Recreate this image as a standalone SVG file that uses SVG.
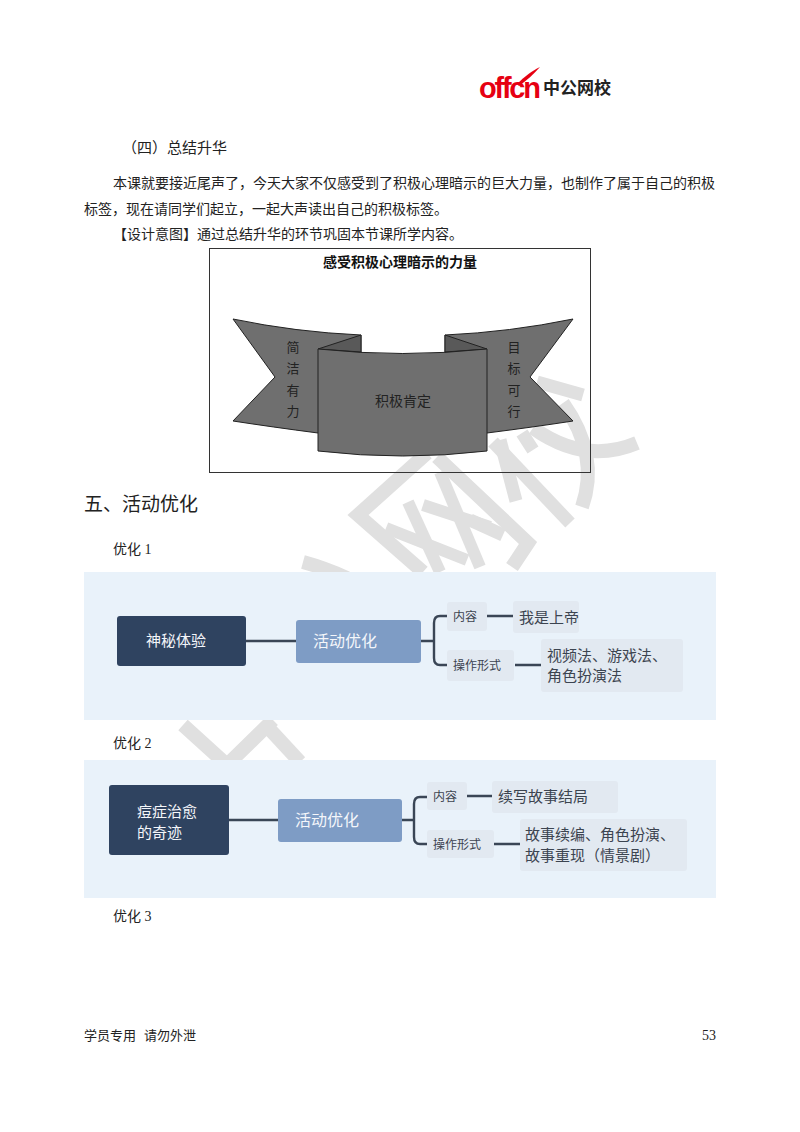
<svg xmlns="http://www.w3.org/2000/svg" width="800" height="1132" viewBox="0 0 800 1132">
<style>
text{font-family:"Liberation Serif","Noto Sans CJK SC",serif;fill:#222}
.b{font-size:14px}
.s{font-family:"Noto Sans CJK SC","Liberation Sans",sans-serif}
.wm{fill:none;stroke:#e0e0e0;stroke-width:13}
.panel{fill:#e9f2fa}
.dark{fill:#2f4360}
.blue{fill:#7e9cc5}
.tag{fill:#e2e9f1}
.w{fill:#f4f6fa;font-family:"Noto Sans CJK SC",sans-serif}
.t{fill:#3c4450;font-family:"Noto Sans CJK SC",sans-serif}
.con{fill:none;stroke:#3a4656;stroke-width:2.4}
.rib{fill:#6f6f6f;stroke:#222;stroke-width:1}
.ribd{fill:#595959;stroke:#222;stroke-width:1}
.rt{fill:#222;font-size:13px;font-family:"Noto Sans CJK SC",sans-serif;text-anchor:middle}
</style>
<rect width="800" height="1132" fill="#fff"/>
<g id="watermark" class="wm">
<path d="M537 382L583 395"/>
<path d="M563 403Q600 455 582 507" stroke-width="14"/>
<path d="M533 428Q585 465 637 443" stroke-width="14"/>
<path d="M522 433L533 450"/>
<path d="M493 442L570 523"/>
<path d="M500 440L516 501"/>
<path d="M427 453L358 515L423 572" stroke-width="14"/>
<path d="M437 457L528 543L512 567" stroke-width="14"/>
<path d="M470 520L503 535"/>
<path d="M408 502L440 572" stroke-width="12"/>
<path d="M386 528L467 560" stroke-width="12"/>
<path d="M440 472L480 567" stroke-width="12"/>
<path d="M423 505L490 527" stroke-width="12"/>
<path d="M303 562Q325 568 347 578" stroke-width="14"/>
<path d="M183 725L227 765L273 720" stroke-width="14"/>
<path d="M263 722L300 762" stroke-width="14"/>
</g>
<g id="logo">
<text x="479" y="98" style="font-family:'Liberation Sans',sans-serif;font-size:29px;font-weight:700;fill:#e60012" textLength="62">offcn</text>
<path d="M517 84C525 76 532 71 540 67C534 74 527 80 519 86Z" fill="#e60012"/>
<text x="543" y="94" class="s" style="font-size:17px;font-weight:700;fill:#222">中公网校</text>
</g>
<g id="body" class="b">
<text x="122" y="153" class="s" style="font-size:15px">（四）总结升华</text>
<text x="113" y="188">本课就要接近尾声了，今天大家不仅感受到了积极心理暗示的巨大力量，也制作了属于自己的积极</text>
<text x="84" y="214">标签，现在请同学们起立，一起大声读出自己的积极标签。</text>
<text x="113" y="239">【设计意图】通过总结升华的环节巩固本节课所学内容。</text>
<text x="84" y="511" class="s" style="font-size:19px">五、活动优化</text>
<text x="113" y="554">优化 1</text>
<text x="113" y="748">优化 2</text>
<text x="113" y="921">优化 3</text>
<text x="84" y="1040" class="s" style="font-size:13px">学员专用</text>
<text x="144" y="1040" class="s" style="font-size:13px">请勿外泄</text>
<text x="716" y="1040" text-anchor="end">53</text>
</g>
<g id="ribbon-frame">
<rect x="209.500" y="248.500" width="381" height="224" fill="none" stroke="#333"/>
<text x="400" y="267" text-anchor="middle" style="font-size:14px;font-weight:700;fill:#111;font-family:'Noto Sans CJK SC',sans-serif">感受积极心理暗示的力量</text>
</g>
<g id="ribbon-left">
<path class="rib" d="M233 319Q295 332 361 335L361 400L318 433Q272 427 233 421L275 377Z"/>
<path class="ribd" d="M361 335L361 352L318 349Z"/>
<text class="rt" x="293" y="352">简</text><text class="rt" x="293" y="373">洁</text><text class="rt" x="293" y="395">有</text><text class="rt" x="293" y="416">力</text>
</g>
<g id="ribbon-right">
<path class="rib" d="M573 319Q510 332 445 335L445 400L487 433Q534 427 573 421L530 377Z"/>
<path class="ribd" d="M445 335L445 352L487 349Z"/>
<text class="rt" x="514" y="352">目</text><text class="rt" x="514" y="373">标</text><text class="rt" x="514" y="395">可</text><text class="rt" x="514" y="416">行</text>
</g>
<g id="ribbon-center">
<path class="rib" d="M318 349Q403 358 487 349L487 451Q403 461 318 451Z"/>
<text class="rt" x="403" y="406" style="font-size:14px">积极肯定</text>
</g>
<rect class="panel" x="84" y="572" width="632" height="148"/>
<rect class="panel" x="84" y="760" width="632" height="138"/>
<g id="connectors">
<path class="con" d="M246 641H296M421 641H434"/>
<path class="con" d="M447 616H440Q434 616 434 623V658Q434 665 440 665H447"/>
<path class="con" d="M487 616H513M515 665H541"/>
<path class="con" d="M229 820H278M402 820H414"/>
<path class="con" d="M427 797H420Q414 797 414 804V837Q414 844 420 844H427"/>
<path class="con" d="M467 796H492M494 844H520"/>
</g>
<g id="m1-root"><rect class="dark" x="117" y="616" width="129" height="50" rx="3"/><text class="w" x="146" y="646" font-size="15">神秘体验</text></g>
<g id="m1-main"><rect class="blue" x="296" y="620" width="125" height="43" rx="3"/><text class="w" x="313" y="647" font-size="16">活动优化</text></g>
<g id="m1-a"><rect class="tag" x="447" y="602" width="40" height="29" rx="3"/><text class="t" x="453" y="621" font-size="12">内容</text></g>
<g id="m1-a1"><rect class="tag" x="513" y="601" width="66" height="32" rx="3"/><text class="t" x="519" y="623" font-size="15">我是上帝</text></g>
<g id="m1-b"><rect class="tag" x="447" y="650" width="67" height="31" rx="3"/><text class="t" x="453" y="670" font-size="12">操作形式</text></g>
<g id="m1-b1"><rect class="tag" x="541" y="639" width="142" height="53" rx="3"/><text class="t" x="547" y="661" font-size="15">视频法、游戏法、</text><text class="t" x="547" y="681" font-size="15">角色扮演法</text></g>
<g id="m2-root"><rect class="dark" x="109" y="785" width="120" height="70" rx="3"/><text class="w" x="137" y="817" font-size="15">痘症治愈</text><text class="w" x="137" y="838" font-size="15">的奇迹</text></g>
<g id="m2-main"><rect class="blue" x="278" y="799" width="124" height="43" rx="3"/><text class="w" x="295" y="826" font-size="16">活动优化</text></g>
<g id="m2-a"><rect class="tag" x="427" y="782" width="40" height="28" rx="3"/><text class="t" x="433" y="801" font-size="12">内容</text></g>
<g id="m2-a1"><rect class="tag" x="492" y="781" width="126" height="32" rx="3"/><text class="t" x="498" y="802" font-size="15">续写故事结局</text></g>
<g id="m2-b"><rect class="tag" x="427" y="830" width="67" height="28" rx="3"/><text class="t" x="433" y="849" font-size="12">操作形式</text></g>
<g id="m2-b1"><rect class="tag" x="520" y="819" width="167" height="52" rx="3"/><text class="t" x="525" y="840" font-size="15">故事续编、角色扮演、</text><text class="t" x="525" y="861" font-size="15">故事重现（情景剧）</text></g>
</svg>
